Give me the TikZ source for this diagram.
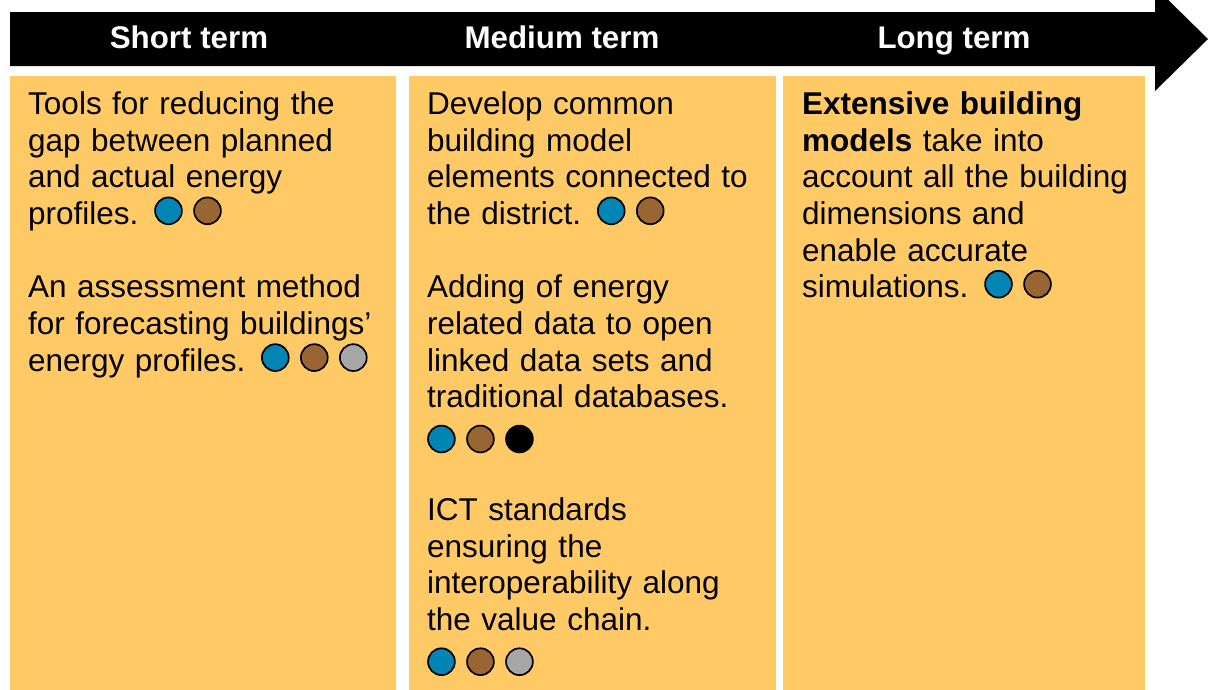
\documentclass[tikz,border=0pt]{standalone}
\usepackage{fontspec}
\setmainfont{Liberation Sans}
\definecolor{boxyellow}{HTML}{FFCA66}
\definecolor{dotblue}{HTML}{0085B5}
\definecolor{dotbrown}{HTML}{996633}
\definecolor{dotgray}{HTML}{A6A6A6}
\newcommand\dotc[1]{\tikz[baseline=0pt]\draw[line width=1.7pt,fill=#1] (0pt,13.6pt) circle[radius=13.4pt];}
\begin{document}
\begin{tikzpicture}[x=1pt,y=-1pt,
  colbox/.style={fill=boxyellow,draw=none},
  header/.style={text=white,font=\fontsize{31.3}{36}\selectfont\bfseries,anchor=base,inner sep=0pt},
  body/.style={anchor=base west,inner sep=0pt,text width=390pt,align=left,
    font=\fontsize{31.5}{36.7}\selectfont}]
\clip (0,0) rectangle (1208,689);
\useasboundingbox (0,0) rectangle (1208,689);
% timeline arrow
\fill[black] (10,12) -- (1155,12) -- (1155,-13) -- (1208,39) -- (1155,91) -- (1155,66) -- (10,66) -- cycle;
\node[header] (hshort) at (189,48.3) {Short term};
\node[header] (hmed) at (562,48.3) {Medium term};
\node[header] (hlong) at (954,48.3) {Long term};
% columns
\path[colbox] (10,76) rectangle (396,700);
\path[colbox] (409,76) rectangle (775.5,700);
\path[colbox] (783,76) rectangle (1145,700);
% short term
\node[body] (s1) at (28,114.3) {Tools for reducing the\\gap between planned\\and actual energy\\profiles. \dotc{dotblue} \dotc{dotbrown}};
\node[body] (s2) at (28,297.8) {An assessment method\\for forecasting buildings’\\energy profiles. \dotc{dotblue} \dotc{dotbrown} \dotc{dotgray}};
% medium term
\node[body] (m1) at (427,114.3) {Develop common\\building model\\elements connected to\\the district. \dotc{dotblue} \dotc{dotbrown}};
\node[body] (m2) at (427,297.8) {Adding of energy\\related data to open\\linked data sets and\\traditional databases.\\[8pt]\dotc{dotblue} \dotc{dotbrown} \dotc{black}};
\node[body] (m3) at (427,520.5) {ICT standards\\ensuring the\\interoperability along\\the value chain.\\[8pt]\dotc{dotblue} \dotc{dotbrown} \dotc{dotgray}};
% long term
\node[body] (l1) at (802,114.3) {\textbf{Extensive building}\\\textbf{models} take into\\account all the building\\dimensions and\\enable accurate\\simulations. \dotc{dotblue} \dotc{dotbrown}};
\end{tikzpicture}
\end{document}
